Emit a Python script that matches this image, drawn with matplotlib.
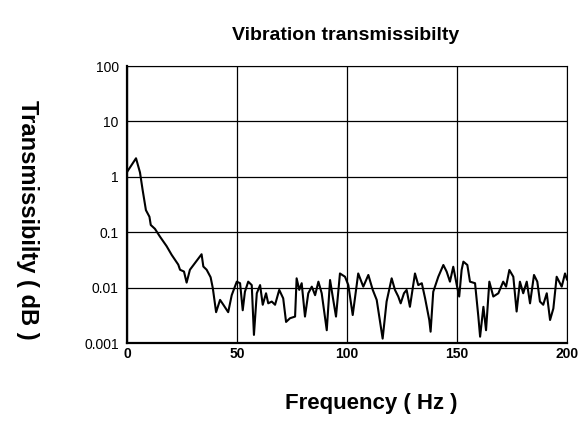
import numpy as np
import matplotlib
matplotlib.use('Agg')
import matplotlib.pyplot as plt

plt.rcParams['font.family'] = ['Liberation Sans', 'DejaVu Sans']

# frequency (Hz) and transmissibility
freq = [0, 4.1, 5.9, 7.1, 8.6, 10.2, 10.8, 12.7, 15, 18, 20.3, 23.3, 24.1, 25.9,
        27.1, 28.6, 33.9, 34.7, 36.2, 38, 39, 40.5, 42.3, 43.8, 46, 47.6,
        49.9, 51.4, 52.6, 53.6, 55.1, 56.7, 57.7, 59, 60.5, 61.7, 63.2, 64.2,
        65.8, 67.3, 69.2, 71, 72.3, 74.1, 76.4, 77.1, 78.3, 79.4, 80.9, 82.4,
        84, 85.5, 87, 88.5, 90.8, 92.3, 93.5, 95, 96.8, 99.1, 100.6, 102.6,
        105.1, 107.4, 109.7, 111.7, 113.5, 116.2, 118, 120.3, 121.8, 123.3,
        124.4, 125.9, 127.1, 128.6, 130.9, 132.4, 134, 135.5, 137.4, 138,
        139.2, 141.5, 143.8, 145.3, 146.8, 148.3, 149.9, 151, 152.1, 152.9,
        154.7, 155.9, 158.2, 159.7, 160.5, 162, 163.2, 164.7, 166.5, 168.8,
        171, 172.3, 173.8, 175.6, 177.1, 178.6, 180.1, 181.7, 183.2, 185,
        186.5, 187.7, 189.2, 190.8, 192.3, 193.8, 195.3, 197.6, 199.1, 200]
trans = [1.22, 2.16, 1.2, 0.58, 0.25, 0.19, 0.135, 0.115, 0.083, 0.056, 0.039,
         0.026, 0.021, 0.0195, 0.0123, 0.021, 0.04, 0.024, 0.021, 0.0154,
         0.0098, 0.0036, 0.006, 0.0049, 0.0036, 0.0073,
         0.0128, 0.012, 0.0039, 0.0084, 0.0128, 0.0111, 0.0014, 0.0079, 0.0111,
         0.0049, 0.0079, 0.0052, 0.0056, 0.0049, 0.0091, 0.0064, 0.0024,
         0.0028, 0.003, 0.0147, 0.0091, 0.012, 0.003, 0.0079, 0.0104, 0.0073,
         0.0128, 0.0079, 0.0017, 0.0137, 0.0069, 0.003, 0.018, 0.0157, 0.0111,
         0.0032, 0.018, 0.0104, 0.0169, 0.0091, 0.006, 0.0012, 0.0056, 0.0147,
         0.0091, 0.0069, 0.0052, 0.0079, 0.0091, 0.0045, 0.018, 0.0111, 0.012,
         0.0064, 0.0026, 0.0016, 0.0084, 0.0157, 0.0256, 0.0194, 0.0128,
         0.0238, 0.0111, 0.0069, 0.0208, 0.0294, 0.0256, 0.0128, 0.012, 0.003,
         0.0013, 0.0045, 0.0017, 0.0128, 0.0069, 0.0079, 0.0128, 0.0104,
         0.0208, 0.0157, 0.0037, 0.0128, 0.0079, 0.0128, 0.0052, 0.0169,
         0.0128, 0.0056, 0.0049, 0.0079, 0.0026, 0.0042, 0.0157, 0.0104,
         0.018, 0.014]

xticks = [0, 50, 100, 150, 200]
yticks = [0.001, 0.01, 0.1, 1, 10, 100]
ylabels = ['0.001', '0.01', '0.1', '1', '10', '100']

fig = plt.figure(figsize=(5.81, 4.44), dpi=100)
ax = fig.add_axes([127 / 581, 1 - 343 / 444, 440 / 581, 277 / 444])

ax.plot(freq, trans, color='black', linewidth=1.5)
ax.set_yscale('log')
ax.set_xlim(0, 200)
ax.set_ylim(0.001, 100)

ax.set_xticks(xticks)
ax.set_xticklabels([str(t) for t in xticks], fontweight='bold', fontsize=10)
ax.set_yticks(yticks)
ax.set_yticklabels(ylabels, fontsize=10)
ax.minorticks_off()
ax.tick_params(axis='y', length=0, pad=6)
ax.tick_params(axis='x', length=0, pad=3)
ax.grid(True, color='black', linewidth=0.9)

for s in ['top', 'right']:
    ax.spines[s].set_linewidth(0.8)
for s in ['left', 'bottom']:
    ax.spines[s].set_linewidth(1.6)

fig.text(346 / 581, 1 - 35 / 444, 'Vibration transmissibilty', ha='center', va='center',
         fontsize=14, fontweight='bold')
fig.text(27 / 581, 1 - 220 / 444, 'Transmissibilty ( dB )', ha='center', va='center',
         rotation=270, fontsize=17, fontweight='bold')
fig.text(371 / 581, 1 - 403 / 444, 'Frequency ( Hz )', ha='center', va='center',
         fontsize=16, fontweight='bold')

fig.savefig('out.png', dpi=100)
